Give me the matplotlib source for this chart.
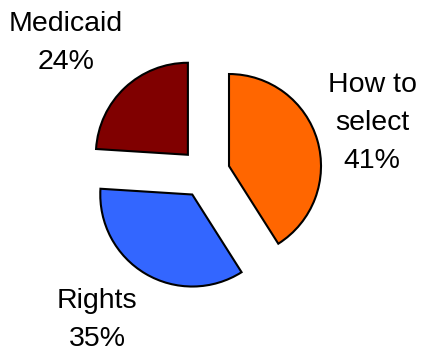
import matplotlib.pyplot as plt

# Topics covered
labels = ['How to\nselect', 'Rights', 'Medicaid']
shares = [41, 35, 24]
colors = ['#FF6600', '#3366FF', '#800000']

fig = plt.figure(figsize=(4.21, 3.52), dpi=100)
ax = fig.add_axes([0, 0, 1, 1])

# explode offset is in data units here (axes are in pixels)
ax.pie(shares, colors=colors, startangle=90, counterclock=False,
       explode=[25] * 3, center=(205, 179), radius=92,
       wedgeprops=dict(edgecolor='black', linewidth=1.5), frame=True)
ax.set_xlim(0, 421)
ax.set_ylim(0, 352)
ax.set_aspect('equal')
ax.axis('off')

# label positions (pixels, y up)
label_pos = [(372, 229), (97, 32), (66, 309)]
for lab, pct, (x, y) in zip(labels, shares, label_pos):
    ax.text(x, y, f'{lab}\n{pct}%', ha='center', va='center',
            fontsize=20.5, family='Liberation Sans', linespacing=1.6)

fig.savefig('out.png', dpi=100)
